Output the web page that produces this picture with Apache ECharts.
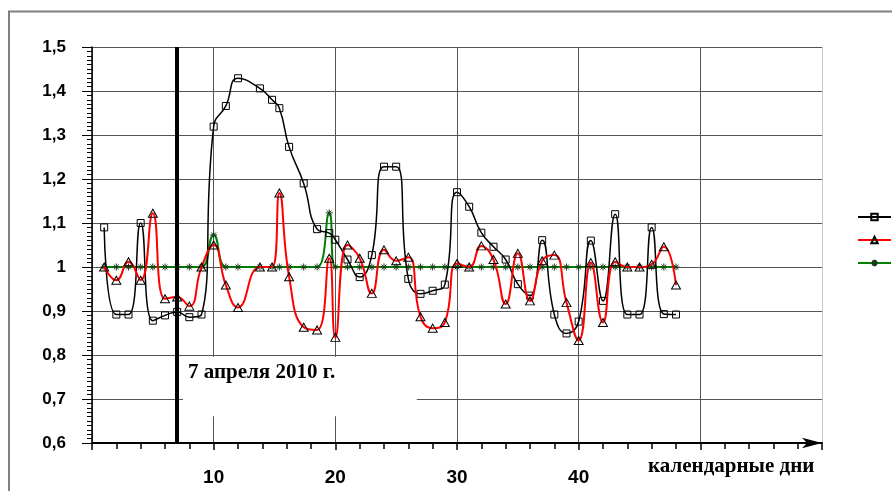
<!DOCTYPE html>
<html>
<head>
<meta charset="utf-8">
<script src="https://cdn.jsdelivr.net/npm/echarts@6/dist/echarts.min.js"></script>
<style>
  html, body { margin: 0; padding: 0; background: #fff; }
  #chart { width: 892px; height: 491px; }
</style>
</head>
<body>
<div id="chart"></div>
<script>
// календарные дни (ось X)
var days = [1, 2, 3, 4, 5, 6, 7, 8, 9, 10, 11, 12,
  13.8, 14.8, 15.4, 16.2, 17.4, 18.5, 19.5, 20,
  21, 22, 23, 24, 25, 26, 27, 28, 29, 30, 31, 32, 33, 34, 35, 36, 37, 38, 39, 40,
  41, 42, 43, 44, 45, 46, 47, 48];

var seriesNames = ['1', '2', '3'];

// чёрная кривая (квадраты)
var blackVals = [1.09, 0.892, 0.892, 1.10, 0.878, 0.89, 0.898, 0.886, 0.892, 1.319, 1.366, 1.429,
  1.406, 1.38, 1.361, 1.273, 1.19, 1.086, 1.077, 1.062,
  1.017, 0.977, 1.027, 1.228, 1.228, 0.973, 0.939, 0.946, 0.96, 1.17, 1.137, 1.078, 1.046, 1.017, 0.961, 0.935, 1.061, 0.892, 0.849, 0.876,
  1.06, 0.923, 1.12, 0.892, 0.892, 1.09, 0.893, 0.892];

// красная кривая (треугольники)
var redVals = [1.0, 0.97, 1.012, 0.97, 1.122, 0.928, 0.932, 0.911, 1.0, 1.05, 0.959, 0.908,
  1.0, 1.0, 1.168, 0.978, 0.863, 0.857, 1.02, 0.84,
  1.05, 1.02, 0.94, 1.039, 1.014, 1.022, 0.887, 0.861, 0.874, 1.008, 1.0, 1.048, 1.017, 0.916, 1.031, 0.923, 1.014, 1.027, 0.919, 0.833,
  1.01, 0.874, 1.012, 1.0, 1.0, 1.006, 1.046, 0.959];

// зелёная кривая (звёздочки)
var greenVals = [1, 1, 1, 1, 1, 1, 1, 1, 1, 1.073, 1, 1,
  1, 1, 1, 1, 1, 1, 1.123, 1,
  1, 1, 1, 1, 1, 1, 1, 1, 1, 1, 1, 1, 1, 1, 1, 1, 1, 1, 1, 1,
  1, 1, 1, 1, 1, 1, 1, 1];

var xLabels = [10, 20, 30, 40];
var eventDay = 7;
var eventText = '7 апреля 2010 г.';
var eventBox = [[7.48, 0.796], [26.7, 0.661]];
var xTitle = 'календарные дни';

function pairs(vals) {
  return days.map(function (d, i) { return [d, vals[i]]; });
}

var starPath = 'path://M0,5L10,5M5,0L5,10M1.5,1.5L8.5,8.5M8.5,1.5L1.5,8.5';
var gridColor = '#555';

var chart = echarts.init(document.getElementById('chart'));
chart.setOption({
  animation: false,
  backgroundColor: '#fff',
  grid: { left: 92, right: 70, top: 47, bottom: 48, containLabel: false },
  legend: {
    orient: 'vertical',
    left: 852,
    top: 206,
    itemWidth: 33,
    itemHeight: 8,
    itemGap: 11,
    textStyle: { color: '#000', fontSize: 12, fontFamily: 'Liberation Sans' },
    data: seriesNames
  },
  xAxis: {
    type: 'value',
    min: 0,
    max: 60,
    interval: 10,
    axisLine: {
      show: true,
      symbol: ['none', 'arrow'],
      symbolSize: [8, 20],
      lineStyle: { color: '#000', width: 2 }
    },
    axisTick: { show: true, inside: false, length: 7, lineStyle: { color: '#000', width: 1.5 } },
    minorTick: { show: true, splitNumber: 5, length: 6, lineStyle: { color: '#000', width: 1.5 } },
    axisLabel: {
      margin: 25,
      color: '#000',
      fontSize: 19,
      fontWeight: 'bold',
      fontFamily: 'Liberation Sans',
      formatter: function (v) { return xLabels.indexOf(v) >= 0 ? String(v) : ''; }
    },
    splitLine: {
      show: true,
      lineStyle: { color: [gridColor, gridColor, gridColor, gridColor, gridColor, gridColor, '#c8c8c8'], width: 1 }
    }
  },
  yAxis: {
    type: 'value',
    min: 0.6,
    max: 1.5,
    interval: 0.1,
    axisLine: { show: true, lineStyle: { color: '#000', width: 1.5 } },
    axisTick: { show: true, length: 10, lineStyle: { color: '#000' } },
    minorTick: { show: true, splitNumber: 10, length: 5, lineStyle: { color: '#000' } },
    axisLabel: {
      margin: 26,
      color: '#000',
      fontSize: 17,
      fontWeight: 'bold',
      fontFamily: 'Liberation Sans',
      formatter: function (v) {
        var s = (Math.round(v * 10) / 10).toString();
        return s.replace('.', ',');
      }
    },
    splitLine: { show: true, lineStyle: { color: gridColor, width: 1 } }
  },
  graphic: [
    {
      type: 'rect',
      shape: { x: 9, y: 11.5, width: 1000, height: 1000 },
      style: { fill: 'none', stroke: '#808080', lineWidth: 2 },
      silent: true
    },
    {
      type: 'text',
      left: 648,
      top: 456,
      style: { text: xTitle, fill: '#000', font: 'bold 21px "Liberation Serif"' }
    }
  ],
  series: [
    {
      name: seriesNames[0],
      type: 'line',
      data: pairs(blackVals),
      smooth: true,
      symbol: 'rect',
      symbolSize: 7,
      itemStyle: { color: 'transparent', borderColor: '#000', borderWidth: 1 },
      lineStyle: { color: '#000', width: 1.5 },
      z: 3,
      markLine: {
        silent: true,
        symbol: ['none', 'none'],
        label: { show: false },
        lineStyle: { color: '#000', width: 4, type: 'solid' },
        data: [{ xAxis: eventDay }]
      }
    },
    {
      name: seriesNames[1],
      type: 'line',
      data: pairs(redVals),
      smooth: true,
      symbol: 'triangle',
      symbolSize: [9, 8],
      itemStyle: { color: 'transparent', borderColor: '#000', borderWidth: 1 },
      lineStyle: { color: '#ff0000', width: 2 },
      z: 4
    },
    {
      name: seriesNames[2],
      type: 'line',
      data: pairs(greenVals),
      smooth: true,
      symbol: starPath,
      symbolSize: 7,
      itemStyle: { color: 'transparent', borderColor: '#1a3a1a', borderWidth: 1 },
      lineStyle: { color: '#008000', width: 2 },
      z: 2,
      markArea: {
        silent: true,
        itemStyle: { color: '#fff', opacity: 1 },
        label: {
          show: true,
          position: 'insideTopLeft',
          distance: 5,
          color: '#000',
          fontSize: 21,
          fontWeight: 'bold',
          fontFamily: 'Liberation Serif'
        },
        data: [[
          { name: eventText, coord: eventBox[0] },
          { coord: eventBox[1] }
        ]]
      }
    }
  ]
});
</script>
</body>
</html>
